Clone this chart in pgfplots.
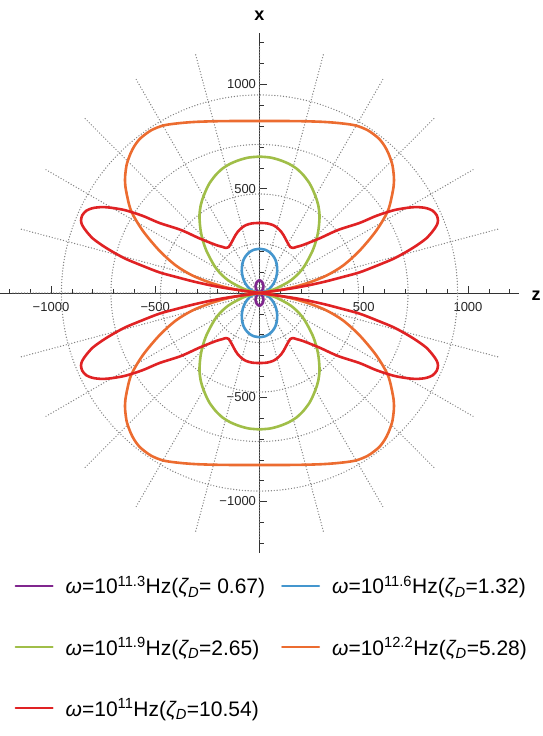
\documentclass[border=0pt]{standalone}
\usepackage{fontspec}
\setmainfont{Liberation Sans}
\usepackage{pgfplots}
\pgfplotsset{compat=1.18}
\usepackage{pgfplotstable}

\definecolor{cPurple}{RGB}{128,38,142}
\definecolor{cBlue}{RGB}{68,150,206}
\definecolor{cGreen}{RGB}{160,190,72}
\definecolor{cOrange}{RGB}{236,108,48}
\definecolor{cRed}{RGB}{224,34,36}

% first-quadrant points (z, x); the curves are mirror symmetric in both axes
\pgfplotstableread{
z x
0 0
5 3
10 8
15 16
18 25
19 33
17 43
13 52
7 58
0 61
}\purpleQ
\pgfplotstableread{
z x
0 0
12 2
24 6
40 14
55 28
70 50
80 75
85 105
83 135
76 160
64 180
48 196
28 207
0 212
}\blueQ
\pgfplotstableread{
z x
0 0
32 6
80 22
152 62
208 118
256 206
280 286
288 366
282 420
275 446
258 490
240 526
210 566
176 598
140 620
96 638
50 650
0 654
}\greenQ
\pgfplotstableread{
z x
0 0
80 11
160 27
240 51
320 83
400 131
480 203
560 299
616 395
640 491
645 540
643 575
636 620
619 668
600 705
571 742
520 780
459 804
380 815
300 821
200 824
100 825
0 825
}\orangeQ
\pgfplotstableread{
z x
0 0
64 9
160 23
240 38
320 56
400 77
480 99
560 130
640 163
700 195
752 227
800 262
832 298
850 325
856 347
850 373
830 395
800 407
760 412
720 410
680 404
640 396
560 370
480 336
376 302
288 262
208 230
180 222
160 216
148 220
140 232
128 254
115 278
104 294
85 313
64 326
35 334
0 336
}\redQ

\newcommand\fourfold[2]{%
  \addplot[#1,forget plot] table[x index=0,y index=1]{#2};
  \addplot[#1,forget plot] table[x expr=-\thisrowno{0},y index=1]{#2};
  \addplot[#1,forget plot] table[x index=0,y expr=-\thisrowno{1}]{#2};
  \addplot[#1,forget plot] table[x expr=-\thisrowno{0},y expr=-\thisrowno{1}]{#2};
}

\begin{document}
\begin{tikzpicture}
\path[use as bounding box] (-259.5pt,-443pt) rectangle (282.5pt,293pt);
\begin{axis}[
  at={(0pt,0pt)}, anchor=origin,
  x=0.2085pt, y=0.2085pt,
  xmin=-1245, xmax=1245, ymin=-1245, ymax=1245,
  axis lines=middle,
  axis line style={-, black!80, line width=0.7pt},
  clip=false,
  xtick={-1000,-500,500,1000},
  ytick={-1000,-500,500,1000},
  xticklabels={−1000,−500,500,1000},
  yticklabels={−1000,−500,500,1000},
  minor xtick={-1200,-1100,...,1200},
  minor ytick={-1200,-1100,...,1200},
  tick align=inside,
  major tick length=7pt, minor tick length=4pt,
  tick style={black!80, line width=0.6pt},
  tick label style={font=\fontsize{13}{13}\selectfont, text=black!85},
  xticklabel style={yshift=-6pt},
  every axis x label/.style={at={(axis cs:1245,0)}, anchor=base west, xshift=9pt, yshift=-7pt},
  every axis y label/.style={at={(axis cs:0,1245)}, anchor=base, yshift=13pt},
  xlabel={\bfseries\fontsize{18}{18}\selectfont z},
  ylabel={\bfseries\fontsize{18}{18}\selectfont x},
  legend columns=2,
  legend cell align=left,
  legend image code/.code={\draw[#1] (0pt,0pt) -- (37pt,0pt);},
  legend style={at={(axis cs:-1175,-1357)}, anchor=north west, draw=none, fill=none,
    inner sep=0pt, font=\fontsize{21}{25}\selectfont,
    nodes={inner sep=0pt}, column sep=12pt, row sep=42pt,
    /tikz/column 2/.style={column sep=16pt}},
  every axis plot/.append style={line width=2.6pt, line join=round, line cap=round, smooth, tension=0.5},
]
% polar grid
\draw[black!50, line width=1.4pt, dash pattern=on 0pt off 2.9pt, line cap=round]
  (axis cs:0,0) circle[radius=49.52pt]
  (axis cs:0,0) circle[radius=99.04pt]
  (axis cs:0,0) circle[radius=148.56pt]
  (axis cs:0,0) circle[radius=198.08pt];
\pgfplotsinvokeforeach{15,30,...,345}{
  \draw[black!50, line width=1.4pt, dash pattern=on 0pt off 2.9pt, line cap=round]
    (axis cs:0,0) -- ++(#1:247.6pt);
}
\fourfold{cPurple}{\purpleQ}
\fourfold{cBlue}{\blueQ}
\fourfold{cGreen}{\greenQ}
\fourfold{cOrange}{\orangeQ}
\fourfold{cRed}{\redQ}
\addlegendimage{cPurple, line width=2pt}
\addlegendentry{{\itshape ω}=10\textsuperscript{11.3}Hz({\itshape ζ\textsubscript{D}}= 0.67)}
\addlegendimage{cBlue, line width=2pt}
\addlegendentry{{\itshape ω}=10\textsuperscript{11.6}Hz({\itshape ζ\textsubscript{D}}=1.32)}
\addlegendimage{cGreen, line width=2pt}
\addlegendentry{{\itshape ω}=10\textsuperscript{11.9}Hz({\itshape ζ\textsubscript{D}}=2.65)}
\addlegendimage{cOrange, line width=2pt}
\addlegendentry{{\itshape ω}=10\textsuperscript{12.2}Hz({\itshape ζ\textsubscript{D}}=5.28)}
\addlegendimage{cRed, line width=2pt}
\addlegendentry{{\itshape ω}=10\textsuperscript{11}Hz({\itshape ζ\textsubscript{D}}=10.54)}
\end{axis}
\end{tikzpicture}
\end{document}
